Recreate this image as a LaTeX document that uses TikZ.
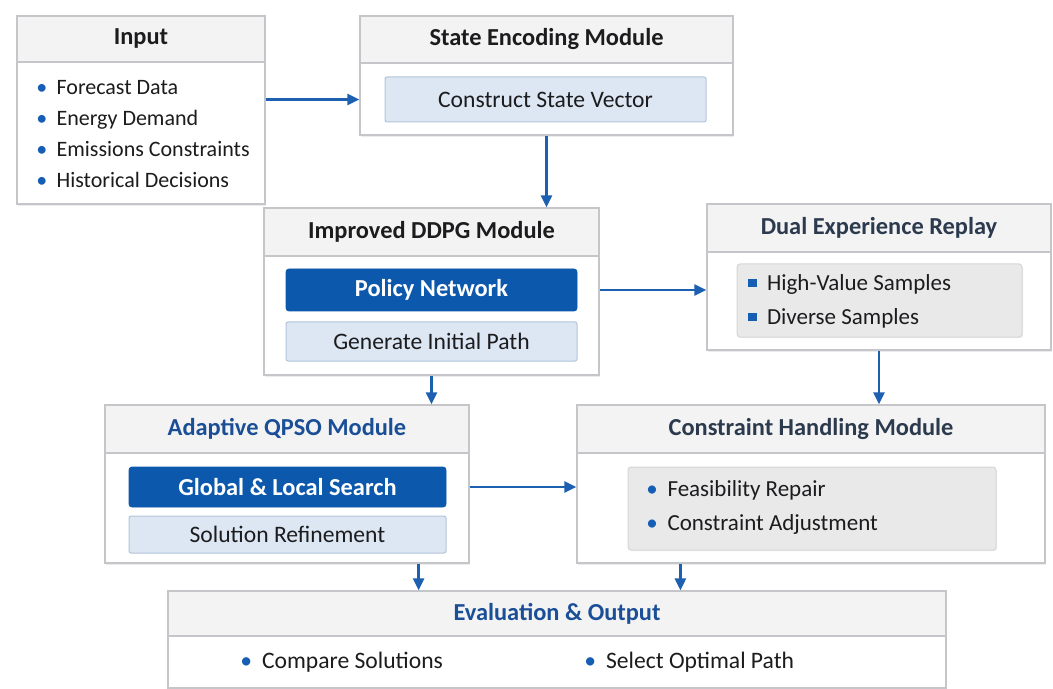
\documentclass[tikz,border=0pt]{standalone}
\usepackage{fontspec}
\setmainfont{Carlito}
\usetikzlibrary{positioning,arrows.meta,shadows,fit,calc}
\definecolor{boxline}{RGB}{196,198,202}
\definecolor{headfill}{RGB}{243,243,243}
\definecolor{darkblue}{RGB}{12,88,172}
\definecolor{lightblue}{RGB}{221,231,243}
\definecolor{lightline}{RGB}{178,196,218}
\definecolor{padfill}{RGB}{233,233,234}
\definecolor{padline}{RGB}{214,214,216}
\definecolor{arrowc}{RGB}{30,96,176}
\definecolor{bulc}{RGB}{22,94,180}
\definecolor{textc}{RGB}{28,28,30}
\definecolor{slatec}{RGB}{44,58,78}
\definecolor{titleblue}{RGB}{26,78,150}
\newcommand\bodyfont{\fontsize{11}{15.5}\selectfont}
\newcommand\padfont{\fontsize{11.5}{15.5}\selectfont}
\newcommand\btnfont{\fontsize{11.8}{14}\selectfont}
\newcommand\headfont{\fontsize{12.2}{14}\selectfont\bfseries}
\newcommand\dotb{{\color{bulc}\textbullet}\hspace{0.42em}}
\newcommand\sqb{{\color{bulc}\rule[0.14em]{0.36em}{0.36em}}\hspace{0.45em}}
\tikzset{
  modbox/.style={draw=boxline,fill=white,line width=0.6pt,inner sep=0pt,
    drop shadow={shadow xshift=0.6pt,shadow yshift=-0.8pt,opacity=0.15}},
  headbox/.style={draw=boxline,fill=headfill,line width=0.6pt,inner sep=0pt},
  darkbtn/.style={draw=darkblue,fill=darkblue,rounded corners=1.5pt,inner sep=0pt},
  lightbtn/.style={draw=lightline,fill=lightblue,line width=0.5pt,rounded corners=1pt,inner sep=0pt},
  graypad/.style={draw=padline,fill=padfill,line width=0.5pt,rounded corners=1.5pt,inner sep=0pt,
    drop shadow={shadow xshift=0.5pt,shadow yshift=-0.6pt,opacity=0.12}},
  title/.style={inner sep=0pt,font=\headfont,text=textc},
  label/.style={inner sep=0pt,font=\btnfont,text=textc},
  items/.style={anchor=west,align=left,inner sep=0pt,font=\bodyfont,text=textc},
  flow/.style={-{Triangle[length=6pt,width=5.5pt]},line width=1.25pt,arrowc},
}
\begin{document}
\begin{tikzpicture}[x=0.5pt,y=-0.5pt]
  \useasboundingbox (0,0) rectangle (1053,689);

  % input
  \node[modbox,fit={(17,16)(265,204)}] (input) {};
  \node[headbox,fit={(17,16)(265,62)}] (inputhd) {};
  \node[title] (inputtt) at (inputhd.center) {Input};
  \node[items] (inputls) at (36,134) {\dotb Forecast Data\\ \dotb Energy Demand\\
    \dotb Emissions Constraints\\ \dotb Historical Decisions};

  % state encoding
  \node[modbox,fit={(360,16)(733,135)}] (state) {};
  \node[headbox,fit={(360,16)(733,63)}] (statehd) {};
  \node[title] (statett) at (statehd.center) {State Encoding Module};
  \node[lightbtn,fit={(385,77)(706,122)}] (cvec) {};
  \node[label] (cvectt) at (cvec.center) {Construct State Vector};

  % ddpg
  \node[modbox,fit={(264,208)(599,375)}] (ddpg) {};
  \node[headbox,fit={(264,208)(599,256)}] (ddpghd) {};
  \node[title] (ddpgtt) at (ddpghd.center) {Improved DDPG Module};
  \node[darkbtn,fit={(286,269)(577,311)}] (policy) {};
  \node[title,text=white] (policytt) at (policy.center) {Policy Network};
  \node[lightbtn,fit={(286,322)(577,361)}] (initpath) {};
  \node[label] (initpathtt) at (initpath.center) {Generate Initial Path};

  % replay
  \node[modbox,fit={(707,204)(1051,350)}] (dual) {};
  \node[headbox,fit={(707,204)(1051,252)}] (dualhd) {};
  \node[title,text=slatec] (dualtt) at (dualhd.center) {Dual Experience Replay};
  \node[graypad,fit={(737,264)(1022,337)}] (dualpad) {};
  \node[items,font=\padfont] (dualls) at (748,301) {\sqb High-Value Samples\\[1.5pt] \sqb Diverse Samples};

  % qpso
  \node[modbox,fit={(105,405)(469,563)}] (qpso) {};
  \node[headbox,fit={(105,405)(469,453)}] (qpsohd) {};
  \node[title,text=titleblue] (qpsott) at (qpsohd.center) {Adaptive QPSO Module};
  \node[darkbtn,fit={(129,467)(446,507)}] (global) {};
  \node[title,text=white] (globaltt) at (global.center) {Global \& Local Search};
  \node[lightbtn,fit={(129,516)(446,553)}] (refine) {};
  \node[label] (refinett) at (refine.center) {Solution Refinement};

  % constraints
  \node[modbox,fit={(577,405)(1045,563)}] (chm) {};
  \node[headbox,fit={(577,405)(1045,453)}] (chmhd) {};
  \node[title,text=slatec] (chmtt) at (chmhd.center) {Constraint Handling Module};
  \node[graypad,fit={(628,467)(996,550)}] (chmpad) {};
  \node[items,font=\padfont] (chmls) at (646,507) {\dotb Feasibility Repair\\[1.5pt] \dotb Constraint Adjustment};

  % evaluation
  \node[modbox,fit={(168,591)(946,688)}] (eval) {};
  \node[headbox,fit={(168,591)(946,636)}] (evalhd) {};
  \node[title,text=titleblue] (evaltt) at (evalhd.center) {Evaluation \& Output};
  \node[items,font=\btnfont] (cmp) at (240,662) {\dotb Compare Solutions};
  \node[items,font=\btnfont] (sel) at (584,662) {\dotb Select Optimal Path};

  % arrows
  \coordinate (qpsoout) at ($(qpso.south east)+(-51,0)$);
  \coordinate (chmout) at ($(chm.south west)+(104,0)$);
  \draw[flow] (input.east |- cvec.west) -- (state.west |- cvec.west);
  \draw[flow] (state.south) -- (state.south |- ddpg.north);
  \draw[flow] (ddpg.east |- policy.east) -- (dual.west |- policy.east);
  \draw[flow] (dual.south) -- (dual.south |- chm.north);
  \draw[flow] (ddpg.south) -- (ddpg.south |- qpso.north);
  \draw[flow] (qpso.east |- global.east) -- (chm.west |- global.east);
  \draw[flow] (qpsoout) -- (qpsoout |- eval.north);
  \draw[flow] (chmout) -- (chmout |- eval.north);
\end{tikzpicture}
\end{document}
